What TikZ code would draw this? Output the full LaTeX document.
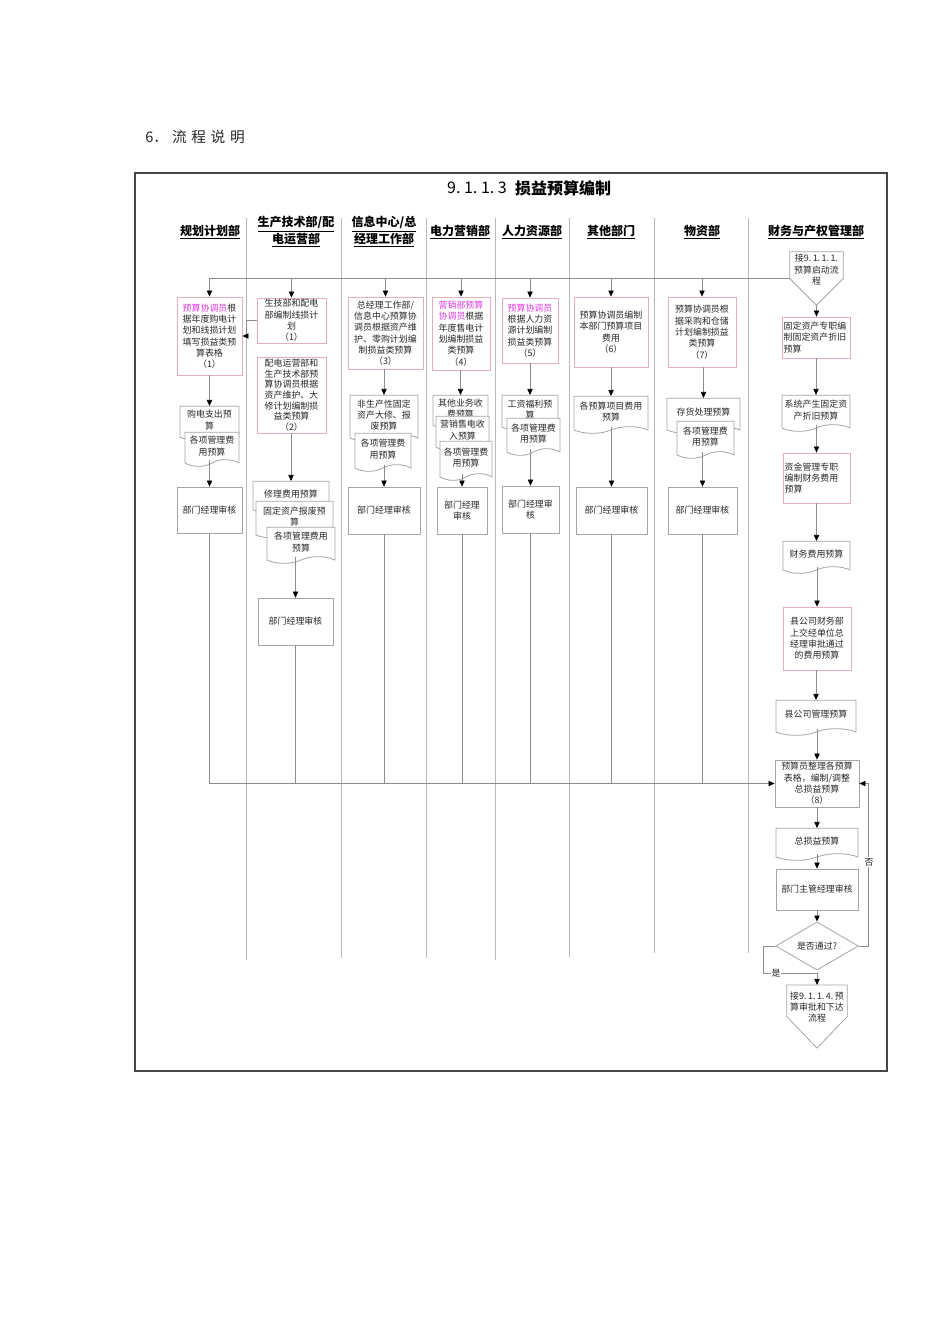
\documentclass[tikz,border=0pt]{standalone}
\usepackage{fontspec}
\setmainfont{Noto Sans CJK SC}
\usetikzlibrary{arrows.meta,shapes.geometric,shapes.symbols}
\definecolor{pinkc}{RGB}{228,176,188}
\definecolor{grayc}{RGB}{165,165,165}
\definecolor{linec}{RGB}{140,140,140}
\definecolor{lanec}{RGB}{185,185,185}
\definecolor{framec}{RGB}{70,70,70}
\definecolor{txtc}{RGB}{40,40,40}
\definecolor{mag}{RGB}{225,60,225}
\newcommand\myboxfont{\fontsize{6.7}{8.5}\selectfont}
\newcommand\mytightfont{\fontsize{6.7}{8.0}\selectfont}
\newcommand\myhdrfont{\fontsize{9}{11.3}\selectfont\bfseries}
\newcommand\bx[7]{%
  \pgfmathsetmacro\bxw{(#5-#3)*0.75}%
  \pgfmathsetmacro\bxh{(#6-#4)*0.75}%
  \pgfmathsetmacro\bxt{(#5-#3)*0.75-2.5}%
  \pgfmathsetmacro\bxx{(#3+#5)/2}%
  \pgfmathsetmacro\bxy{(#4+#6)/2}%
  \node[#2, minimum width=\bxw pt, minimum height=\bxh pt, text width=\bxt pt] (#1) at (\bxx,\bxy) {#7};%
}
\tikzset{
  basebox/.style={fill=white, line width=0.6pt, inner sep=1pt, font=\myboxfont, text=txtc, align=center},
  pbox/.style={basebox, draw=pinkc},
  gbox/.style={basebox, draw=grayc},
  docu/.style={basebox, draw=grayc, shape=tape, tape bend top=none, tape bend bottom=in and out, tape bend height=5pt},
  ln/.style={draw=linec, line width=0.5pt},
  arr/.style={ln, -{Triangle[length=4.5pt,width=4pt,color=black,fill=black]}},
  lane/.style={draw=lanec, line width=0.5pt},
  hdr/.style={font=\myhdrfont, text=black, align=center, inner sep=0pt},
  penta/.style={draw=grayc, line width=0.6pt},
  lbl/.style={font=\myboxfont, fill=white, inner sep=0.5pt, text=txtc},
}
\begin{document}
\begin{tikzpicture}[x=0.75pt,y=-0.75pt]
\fill[white] (0,0) rectangle (950,1344);
\useasboundingbox (0,0) rectangle (950,1344);

% heading outside frame
\node[anchor=west, font=\fontsize{11}{13}\selectfont, text=txtc, inner sep=0pt] (sec) at (145,137) {6．\hspace{3pt}流\hspace{3.5pt}程\hspace{3.5pt}说\hspace{3.5pt}明};

% frame
\draw[draw=framec, line width=0.8pt] (135,173) rectangle (887,1071);

% title
\node[font=\fontsize{12}{14}\selectfont, inner sep=0pt] (tnum) at (477,188) {9.\ 1.\ 1.\ 3};
\node[font=\fontsize{12}{14}\selectfont\bfseries, inner sep=0pt] (ttl) at (563,188) {损益预算编制};

% lane dividers
\foreach \lx/\ly in {246/960, 341/958, 426/958, 495/960, 569/957, 654/953, 748/953}
  \draw[lane] (\lx,218) -- (\lx,\ly);

% headers
\node[hdr] (h1) at (210,232) {\underline{规划计划部}};
\node[hdr] (h2) at (296,232) {\underline{生产技术部/配}\\\underline{电运营部}};
\node[hdr] (h3) at (384,232) {\underline{信息中心/总}\\\underline{经理工作部}};
\node[hdr] (h4) at (460,232) {\underline{电力营销部}};
\node[hdr] (h5) at (532,232) {\underline{人力资源部}};
\node[hdr] (h6) at (611,232) {\underline{其他部门}};
\node[hdr] (h7) at (702,232) {\underline{物资部}};
\node[hdr] (h8) at (816,232) {\underline{财务与产权管理部}};

% column 1
\bx{c1a}{pbox}{177}{297}{242}{375}{\textcolor{mag}{预算协调员}根\\据年度购电计\\划和线损计划\\填写损益类预\\算表格\\（1）}
\bx{c1d1}{docu}{180}{403}{239}{437}{购电支出预\\算}
\bx{c1d2}{docu}{185}{429}{239}{463}{各项管理费\\用预算}
\bx{c1r}{gbox}{177}{487}{242}{533}{部门经理审核}

% column 2
\bx{c2a}{pbox}{257}{298}{326}{343}{生技部和配电\\部编制线损计\\划\\（1）}
\bx{c2b}{pbox,font=\mytightfont}{257}{357}{326}{433}{配电运营部和\\生产技术部预\\算协调员根据\\资产维护、大\\修计划编制损\\益类预算\\（2）}
\bx{c2d1}{docu}{253}{478}{329}{510}{修理费用预算}
\bx{c2d2}{docu}{256}{498}{333}{535}{固定资产报废预\\算}
\bx{c2d3}{docu}{267}{524}{335}{560}{各项管理费用\\预算}
\bx{c2r}{gbox}{258}{598}{333}{645}{部门经理审核}

% column 3
\bx{c3a}{pbox}{348}{297}{423}{369}{总经理工作部/\\信息中心预算协\\调员根据资产维\\护、零购计划编\\制损益类预算\\（3）}
\bx{c3d1}{docu}{350}{392}{418}{438}{非生产性固定\\资产大修、报\\废预算}
\bx{c3d2}{docu}{355}{430}{411}{468}{各项管理费\\用预算}
\bx{c3r}{gbox}{348}{487}{420}{534}{部门经理审核}

% column 4
\bx{c4a}{pbox}{432}{297}{490}{370}{\textcolor{mag}{营销部预算}\\\textcolor{mag}{协调员}根据\\年度售电计\\划编制损益\\类预算\\（4）}
\bx{c4d1}{docu}{433}{392}{488}{425}{其他业务收\\费预算}
\bx{c4d2}{docu}{436}{413}{489}{447}{营销售电收\\入预算}
\bx{c4d3}{docu}{440}{438}{492}{477}{各项管理费\\用预算}
\bx{c4r}{gbox}{437}{487}{487}{534}{部门经理\\审核}

% column 5
\bx{c5a}{pbox}{502}{298}{558}{363}{\textcolor{mag}{预算协调员}\\根据人力资\\源计划编制\\损益类预算\\（5）}
\bx{c5d1}{docu}{502}{392}{558}{427}{工资福利预\\算}
\bx{c5d2}{docu}{507}{415}{560}{452}{各项管理费\\用预算}
\bx{c5r}{gbox}{502}{486}{559}{533}{部门经理审\\核}

% column 6
\bx{c6a}{pbox}{574}{297}{648}{367}{预算协调员编制\\本部门预算项目\\费用\\（6）}
\bx{c6d1}{docu}{574}{393}{648}{430}{各预算项目费用\\预算}
\bx{c6r}{gbox}{576}{487}{647}{534}{部门经理审核}

% column 7
\bx{c7a}{pbox}{668}{297}{736}{367}{预算协调员根\\据采购和仓储\\计划编制损益\\类预算\\（7）}
\bx{c7d1}{docu}{667}{395}{740}{430}{存货处理预算}
\bx{c7d2}{docu}{677}{418}{734}{455}{各项管理费\\用预算}
\bx{c7r}{gbox}{668}{487}{737}{534}{部门经理审核}

% finance column
\node[font=\myboxfont, text=txtc, align=center, inner sep=0pt, minimum width=39.75pt, minimum height=39.75pt] (p1) at (816.5,278.5) {接9.\,1.\,1.\,1.\\预算启动流\\程\\[5pt]};
\draw[penta] (p1.north west) -- (p1.north east) -- (p1.east) -- (p1.south) -- (p1.west) -- cycle;
\bx{f1}{pbox,align=left}{782}{317}{850}{358}{固定资产专职编\\制固定资产折旧\\预算}
\bx{f2}{docu}{782}{392}{850}{428}{系统产生固定资\\产折旧预算}
\bx{f3}{pbox,align=left}{783}{453}{850}{503}{资金管理专职\\编制财务费用\\预算}
\bx{f4}{docu}{783}{538}{850}{570}{财务费用预算}
\bx{f5}{pbox}{783}{607}{851}{670}{县公司财务部\\上交经单位总\\经理审批通过\\的费用预算}
\bx{f6}{docu}{776}{697}{856}{732}{县公司管理预算}
\bx{f7}{gbox}{775}{760}{859}{807}{预算员整理各预算\\表格，编制/调整\\总损益预算\\（8）}
\bx{f8}{docu}{776}{825}{858}{857}{总损益预算}
\bx{f9}{gbox}{776}{869}{858}{910}{部门主管经理审核}
\node[diamond, draw=grayc, line width=0.6pt, fill=white, minimum width=62pt, minimum height=28.5pt, inner sep=0pt, font=\myboxfont, text=txtc] (f10) at (817,946) {是否通过?};
\node[font=\myboxfont, text=txtc, align=center, inner sep=0pt, minimum width=45pt, minimum height=47pt] (p2) at (817,1016.5) {接9.\,1.\,1.\,4.\,预\\算审批和下达\\流程\\[6pt]};
\draw[penta] (p2.north west) -- (p2.north east) -- (p2.east) -- (p2.south) -- (p2.west) -- cycle;

% top bus
\draw[ln] (p1.west) -- (p1.west -| c1a.north);
\foreach \n in {c1a,c2a,c3a,c4a,c5a,c6a,c7a}
  \draw[arr] (p1.west -| \n.north) -- (\n.north);
\draw[arr] (c2a.west) -- ++(-10,0) |- (c1a.east);

% column chains
\draw[arr] (c1d1.north |- c1a.south) -- (c1d1.north);
\draw[arr] (c1r.north |- c1d2.south) -- (c1r.north);
\draw[arr] (c2d1.north |- c2b.south) -- (c2d1.north);
\draw[arr] (c2r.north |- c2d3.south) -- (c2r.north);
\draw[arr] (c3d1.north |- c3a.south) -- (c3d1.north);
\draw[arr] (c3r.north |- c3d2.south) -- (c3r.north);
\draw[arr] (c4d1.north |- c4a.south) -- (c4d1.north);
\draw[arr] (c4r.north |- c4d3.south) -- (c4r.north);
\draw[arr] (c5d1.north |- c5a.south) -- (c5d1.north);
\draw[arr] (c5r.north |- c5d2.south) -- (c5r.north);
\draw[arr] (c6d1.north |- c6a.south) -- (c6d1.north);
\draw[arr] (c6r.north |- c6d1.south) -- (c6r.north);
\draw[arr] (c7d1.north |- c7a.south) -- (c7d1.north);
\draw[arr] (c7r.north |- c7d2.south) -- (c7r.north);

% bottom bus to box 8
\draw[arr] (c1r.south) |- (f7.west);
\foreach \n in {c2r,c3r,c4r,c5r,c6r,c7r}
  \draw[ln] (\n.south) -- (\n.south |- f7.west);

% finance chain
\draw[arr] (p1.south) -- (p1.south |- f1.north);
\draw[arr] (f2.north |- f1.south) -- (f2.north);
\draw[arr] (f3.north |- f2.south) -- (f3.north);
\draw[arr] (f4.north |- f3.south) -- (f4.north);
\draw[arr] (f5.north |- f4.south) -- (f5.north);
\draw[arr] (f6.north |- f5.south) -- (f6.north);
\draw[arr] (f7.north |- f6.south) -- (f7.north);
\draw[arr] (f8.north |- f7.south) -- (f8.north);
\draw[arr] (f9.north |- f8.south) -- (f9.north);
\draw[arr] (f10.north |- f9.south) -- (f10.north);

% decision branches
\draw[arr] (f10.east) -- (868,946) |- (f7.east);
\node[lbl] (no) at (869,862) {否};
\coordinate (yj) at (817,973);
\draw[arr] (f10.west) -- (763,946) |- (yj) -- (p2.north);
\node[lbl] (yes) at (776,973) {是};
\end{tikzpicture}
\end{document}
